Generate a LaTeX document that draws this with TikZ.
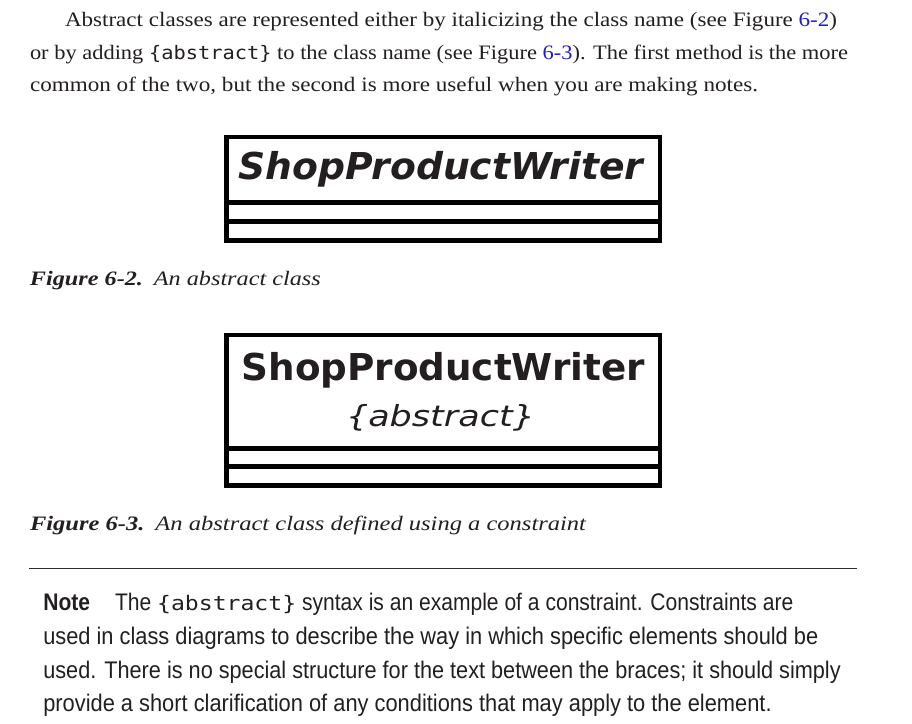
\documentclass[tikz,border=0pt]{standalone}
\usepackage{fontspec}
\usepackage{graphicx}
\setmainfont{Liberation Serif}
\newfontfamily\notefont[FakeStretch=0.76]{Liberation Sans}
\newfontfamily\umlfont{DejaVu Sans}
\newfontfamily\codefont{DejaVu Sans Mono}
\definecolor{ink}{RGB}{35,31,32}
\definecolor{linkblue}{RGB}{30,30,205}
\definecolor{rulegray}{RGB}{45,45,45}
\newcommand{\fitw}[2]{\resizebox{#1pt}{\height}{#2}}
\tikzset{
  txt/.style={anchor=base west, inner sep=0pt, outer sep=0pt, text=ink},
  body/.style={txt, font=\fontsize{20.5}{24}\selectfont},
  note/.style={txt, font=\notefont\fontsize{24}{27}\selectfont},
  umlname/.style={txt, font=\umlfont\bfseries\fontsize{37}{40}\selectfont},
  compart/.style={draw=black, line width=4.5pt, inner sep=0pt, outer sep=0pt,
    minimum width=433.3pt, anchor=north},
}
\begin{document}
\begin{tikzpicture}[x=1pt,y=-1pt]
\useasboundingbox[fill=white] (0,0) rectangle (912,723);

% paragraph
\node[body] (p1) at (65,26.7) {\fitw{772}{Abstract classes are represented either by italicizing the class name (see Figure \textcolor{linkblue}{6-2})}};
\node[body] (p2) at (30,59.3) {\fitw{818}{or by adding {\codefont\fontsize{18.6}{24}\selectfont\{abstract\}} to the class name (see Figure \textcolor{linkblue}{6-3}). The first method is the more}};
\node[body] (p3) at (30,91.7) {\fitw{728}{common of the two, but the second is more useful when you are making notes.}};

% figure 6-2
\node[compart, minimum height=65.3pt] (a1) at (443.35,137) {};
\node[compart, minimum height=19pt] (a2) at (a1.south) {};
\node[compart, minimum height=19.2pt] (a3) at (a2.south) {};
\node[umlname] (an) at (238.3,179.3) {\fitw{405}{\itshape ShopProductWriter}};
\node[body] (c1) at (30,285) {\fitw{290.7}{{\bfseries\itshape Figure 6-2.}\hspace{0.45em}{\itshape An abstract class}}};

% figure 6-3
\node[compart, minimum height=113.3pt] (b1) at (443.35,335) {};
\node[compart, minimum height=18.4pt] (b2) at (b1.south) {};
\node[compart, minimum height=18.8pt] (b3) at (b2.south) {};
\node[umlname] (bn) at (241.7,380) {\fitw{403.3}{ShopProductWriter}};
\node[txt, font=\umlfont\itshape\fontsize{29}{32}\selectfont] (bc) at (346,426.7) {\fitw{189}{\{abstract\}}};
\node[body] (c2) at (30,530) {\fitw{556}{{\bfseries\itshape Figure 6-3.}\hspace{0.45em}{\itshape An abstract class defined using a constraint}}};

% rule
\coordinate (r1) at (29.3,568.3);
\coordinate (r2) at (857,568.3);
\draw[rulegray, line width=1.3pt] (r1) -- (r2);

% note
\node[note] (n1) at (43.3,610) {\fitw{750}{{\bfseries Note}\hspace{0.9em}The {\codefont\fontsize{20}{26}\selectfont\{abstract\}} syntax is an example of a constraint. Constraints are}};
\node[note] (n2) at (43.3,644.3) {\fitw{775}{used in class diagrams to describe the way in which specific elements should be}};
\node[note] (n3) at (43.3,678.3) {\fitw{797.4}{used. There is no special structure for the text between the braces; it should simply}};
\node[note] (n4) at (43.3,711.7) {\fitw{728.4}{provide a short clarification of any conditions that may apply to the element.}};
\end{tikzpicture}
\end{document}
